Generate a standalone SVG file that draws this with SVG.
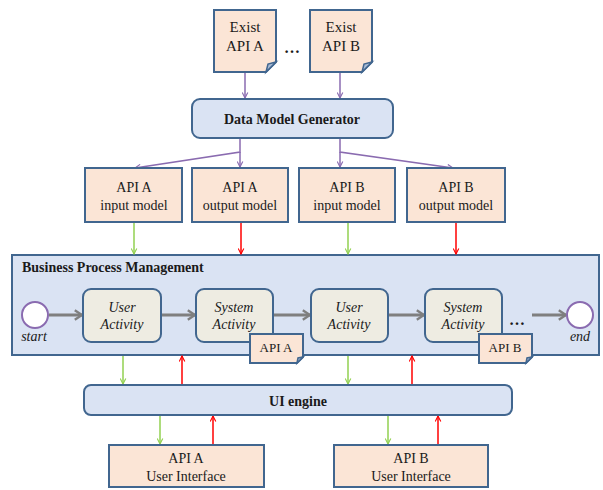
<svg xmlns="http://www.w3.org/2000/svg" width="603" height="490" viewBox="0 0 603 490">
<style>
text{font-family:'Liberation Serif','DejaVu Serif','Times New Roman',serif;font-size:14px;fill:#1a1a1a;text-anchor:middle}
.b{font-weight:bold}
.i{font-style:italic}
.peach{fill:#FBE5D6;stroke:#41668F;stroke-width:2}
.blue{fill:#DAE3F3;stroke:#41668F;stroke-width:2}
.act{fill:#EEECE2;stroke:#41668F;stroke-width:2}
.fold{fill:#A9BCD6;stroke:#41668F;stroke-width:1.5}
.pu{stroke:#8A6BB0;stroke-width:1.5;fill:none;marker-end:url(#mp)}
.gr{stroke:#92D050;stroke-width:1.5;fill:none;marker-end:url(#mg)}
.rd{stroke:#FF0000;stroke-width:1.5;fill:none;marker-end:url(#mr)}
.gy{stroke:#7F7F7F;stroke-width:3;fill:none;marker-end:url(#mk)}
.ev{fill:#fff;stroke:#8A6BB0;stroke-width:2}
</style>
<defs>
<marker id="mp" viewBox="0 0 10 10" refX="9" refY="5" markerWidth="7" markerHeight="7" orient="auto" markerUnits="userSpaceOnUse"><path d="M1,1 L9,5 L1,9" fill="none" stroke="#8A6BB0" stroke-width="1.6"/></marker>
<marker id="mg" viewBox="0 0 10 10" refX="9" refY="5" markerWidth="7" markerHeight="7" orient="auto" markerUnits="userSpaceOnUse"><path d="M1,1 L9,5 L1,9" fill="none" stroke="#92D050" stroke-width="1.6"/></marker>
<marker id="mr" viewBox="0 0 10 10" refX="9" refY="5" markerWidth="7" markerHeight="7" orient="auto" markerUnits="userSpaceOnUse"><path d="M1,1 L9,5 L1,9" fill="none" stroke="#FF0000" stroke-width="1.6"/></marker>
<marker id="mk" viewBox="0 0 10 10" refX="8" refY="5" markerWidth="12" markerHeight="12" orient="auto" markerUnits="userSpaceOnUse"><path d="M2,1 L8,5 L2,9" fill="none" stroke="#7F7F7F" stroke-width="2"/></marker>
</defs>
<g font-family="Liberation Serif, DejaVu Serif, serif">
<g id="bpm">
<rect x="12" y="255" width="587" height="100" class="blue"/>
<text x="22" y="272" class="b" style="text-anchor:start">Business Process Management</text>
</g>

<g id="connectors">
<line x1="245" y1="73" x2="245" y2="98" class="pu"/>
<line x1="340" y1="73" x2="340" y2="98" class="pu"/>
<polyline points="240,139 240,152 135,168" class="pu"/>
<line x1="240" y1="152" x2="240" y2="167" class="pu"/>
<polyline points="340,139 340,152 453,168" class="pu"/>
<line x1="340" y1="152" x2="340" y2="167" class="pu"/>
<line x1="134" y1="223" x2="134" y2="254" class="gr"/>
<line x1="241" y1="223" x2="241" y2="254" class="rd"/>
<line x1="348" y1="223" x2="348" y2="254" class="gr"/>
<line x1="456" y1="223" x2="456" y2="254" class="rd"/>
<line x1="49" y1="315" x2="82" y2="315" class="gy"/>
<line x1="161" y1="315" x2="195" y2="315" class="gy"/>
<line x1="274" y1="315" x2="310" y2="315" class="gy"/>
<line x1="389" y1="315" x2="424" y2="315" class="gy"/>
<line x1="532" y1="315" x2="566" y2="315" class="gy"/>
<line x1="123" y1="356" x2="123" y2="384" class="gr"/>
<line x1="182" y1="385" x2="182" y2="356" class="rd"/>
<line x1="348" y1="356" x2="348" y2="384" class="gr"/>
<line x1="412" y1="385" x2="412" y2="356" class="rd"/>
<line x1="160" y1="416" x2="160" y2="444" class="gr"/>
<line x1="213" y1="445" x2="213" y2="416" class="rd"/>
<line x1="388" y1="416" x2="388" y2="444" class="gr"/>
<line x1="438" y1="445" x2="438" y2="416" class="rd"/>
</g>

<g id="existA">
<path d="M214,10 H276 V62 L266,72 H214 Z" class="peach"/>
<path d="M266,72 L268,64 L276,62 Z" class="fold"/>
<text x="245" y="32" style="font-size:15px">Exist</text>
<text x="245" y="51" style="font-size:15px">API A</text>
</g>
<text x="292" y="53" class="b" style="font-size:16px">…</text>
<g id="existB">
<path d="M310,10 H372 V62 L362,72 H310 Z" class="peach"/>
<path d="M362,72 L364,64 L372,62 Z" class="fold"/>
<text x="341" y="32" style="font-size:15px">Exist</text>
<text x="341" y="51" style="font-size:15px">API B</text>
</g>

<g id="dmg">
<rect x="192" y="99" width="201" height="39" rx="8" class="blue"/>
<text x="292" y="124" class="b">Data Model Generator</text>
</g>

<g id="aIn"><rect x="85" y="168" width="97" height="54" class="peach"/><text x="134" y="192">API A</text><text x="134" y="210">input model</text></g>
<g id="aOut"><rect x="192" y="168" width="96" height="54" class="peach"/><text x="240" y="192">API A</text><text x="240" y="210">output model</text></g>
<g id="bIn"><rect x="299" y="168" width="96" height="54" class="peach"/><text x="347" y="192">API B</text><text x="347" y="210">input model</text></g>
<g id="bOut"><rect x="407" y="168" width="98" height="54" class="peach"/><text x="456" y="192">API B</text><text x="456" y="210">output model</text></g>

<g id="start"><circle cx="35" cy="315" r="13" class="ev"/><text x="34" y="341" class="i">start</text></g>
<g id="ua1"><rect x="83" y="289" width="78" height="53" rx="8" class="act"/><text x="122" y="312" class="i">User</text><text x="122" y="329" class="i">Activity</text></g>
<g id="sa1"><rect x="196" y="289" width="77" height="53" rx="8" class="act"/><text x="234" y="312" class="i">System</text><text x="234" y="329" class="i">Activity</text></g>
<g id="docA"><path d="M250,334 H303 V357 L297,363 H250 Z" class="peach"/><path d="M297,363 L298,358 L303,357 Z" class="fold"/><text x="276" y="352" style="font-size:13px">API A</text></g>
<g id="ua2"><rect x="311" y="289" width="77" height="53" rx="8" class="act"/><text x="349" y="312" class="i">User</text><text x="349" y="329" class="i">Activity</text></g>
<g id="sa2"><rect x="425" y="289" width="77" height="53" rx="8" class="act"/><text x="463" y="312" class="i">System</text><text x="463" y="329" class="i">Activity</text></g>
<g id="docB"><path d="M479,334 H532 V357 L526,363 H479 Z" class="peach"/><path d="M526,363 L527,358 L532,357 Z" class="fold"/><text x="505" y="352" style="font-size:13px">API B</text></g>
<text x="517" y="325" class="b" style="font-size:16px">…</text>
<g id="end"><circle cx="580" cy="315" r="13" class="ev"/><text x="580" y="341" class="i">end</text></g>

<g id="ui"><rect x="84" y="385" width="428" height="30" rx="7" class="blue"/><text x="298" y="406" class="b">UI engine</text></g>
<g id="uiA"><rect x="109" y="445" width="155" height="42" class="peach"/><text x="186" y="463">API A</text><text x="186" y="481">User Interface</text></g>
<g id="uiB"><rect x="334" y="445" width="154" height="42" class="peach"/><text x="411" y="463">API B</text><text x="411" y="481">User Interface</text></g>
</g>
</svg>
